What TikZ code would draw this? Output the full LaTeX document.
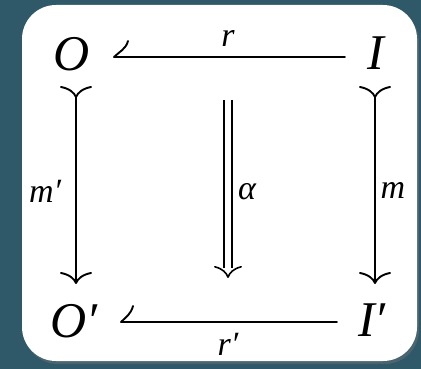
\documentclass[tikz,border=0pt]{standalone}
\usepackage{fontspec}
\setmainfont{Liberation Serif}
\usetikzlibrary{arrows.meta,shadows}
\definecolor{bgteal}{HTML}{2F5868}
\tikzset{
  obj/.style={font=\fontsize{50}{50}\selectfont\itshape, inner sep=0pt},
  lab/.style={font=\fontsize{34}{34}\selectfont\itshape, inner sep=0pt},
  arr/.style={line width=1.9pt},
  mono/.style={{Computer Modern Rightarrow[length=12pt,width=32pt,reversed]}-{Computer Modern Rightarrow[length=12pt,width=32pt]}}
}
\begin{document}
\begin{tikzpicture}[x=1pt,y=-1pt]
\useasboundingbox (0,0) rectangle (421,369);
\fill[bgteal] (0,0) rectangle (421,369);
\fill[white, rounded corners=34pt, drop shadow={opacity=0.35, shadow xshift=2pt, shadow yshift=-3pt}] (22,5) rectangle (417,361);
% objects
\node[obj] (O) at (72,54) {O};
\node[obj] (I) at (376,53) {I};
\node[obj] (Op) at (74,321) {O′};
\node[obj] (Ip) at (372,320) {I′};
% top arrow with hook
\coordinate (t1) at (345,57);
\coordinate (t2) at (114,57);
\coordinate (t3) at (128,41);
\draw[arr, line cap=round, line join=round] (t1) -- (t2) .. controls (119,52) and (126,49) .. (t3);
\node[lab] (r) at (228,38) {r};
% bottom arrow with hook
\coordinate (b1) at (337,322);
\coordinate (b2) at (121,322);
\coordinate (b3) at (133,306);
\draw[arr, line cap=round, line join=round] (b1) -- (b2) .. controls (126,317) and (131,314) .. (b3);
\node[lab] (rp) at (228,344) {r′};
% verticals
\coordinate (l1) at (76,86);
\coordinate (l2) at (76,284);
\draw[arr, mono] (l1) -- (l2);
\node[lab] (mp) at (45,191) {m′};
\coordinate (v1) at (375,86);
\coordinate (v2) at (375,284);
\draw[arr, mono] (v1) -- (v2);
\node[lab] (m) at (393,190) {m};
% double arrow
\coordinate (d1) at (228,100);
\coordinate (d2) at (228,268);
\coordinate (d3) at (228,278);
\draw[line width=1.6pt] ([xshift=-4pt]d1) -- ([xshift=-4pt]d2);
\draw[line width=1.6pt] ([xshift=4pt]d1) -- ([xshift=4pt]d2);
\draw[line width=1.6pt, -{Computer Modern Rightarrow[length=12pt,width=28pt]}] (228,276) -- (d3);
\node[lab] (al) at (247,192) {α};
\end{tikzpicture}
\end{document}
